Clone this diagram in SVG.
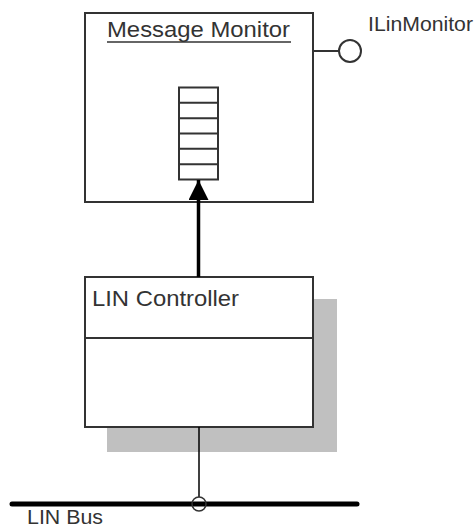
<svg xmlns="http://www.w3.org/2000/svg" width="474" height="527" viewBox="0 0 474 527">
<style>
.box{fill:#fff;stroke:#333;stroke-width:2}
.ln{stroke:#333;fill:none}
.t{font-family:"Liberation Sans",Arial,sans-serif;fill:#333}
</style>
<defs>
<marker id="arr" viewBox="0 0 10 10" refX="10" refY="5" markerWidth="20" markerHeight="20" markerUnits="userSpaceOnUse" orient="auto">
<path d="M0,0 L10,5 L0,10 Z" fill="#000"/>
</marker>
</defs>
<rect width="474" height="527" fill="#fff"/>
<g id="message-monitor">
<rect class="box" x="85" y="13" width="228" height="189"/>
<text class="t" x="107" y="37" font-size="22" textLength="183" lengthAdjust="spacingAndGlyphs">Message Monitor</text>
<line class="ln" x1="107" y1="42" x2="291" y2="42" stroke-width="1.5"/>
<g id="queue">
<rect class="box" x="179" y="87.5" width="39" height="92"/>
<path class="ln" stroke-width="2" d="M179,102.8H218M179,118.2H218M179,133.5H218M179,148.8H218M179,164.2H218"/>
</g>
</g>
<g id="ilinmonitor">
<line class="ln" x1="313" y1="51" x2="339" y2="51" stroke-width="2"/>
<circle cx="350" cy="51" r="11" fill="#fff" stroke="#333" stroke-width="2"/>
<text class="t" x="368" y="31" font-size="21" textLength="105" lengthAdjust="spacingAndGlyphs">ILinMonitor</text>
</g>
<g id="lin-controller">
<rect x="107" y="299" width="230" height="153" fill="#c0c0c0"/>
<rect class="box" x="85" y="277" width="228" height="150"/>
<line class="ln" x1="85" y1="338" x2="313" y2="338" stroke-width="2"/>
<text class="t" x="92" y="306" font-size="22" textLength="147" lengthAdjust="spacingAndGlyphs">LIN Controller</text>
</g>
<g id="lin-bus">
<line x1="12" y1="504" x2="357" y2="504" stroke="#000" stroke-width="5" stroke-linecap="round"/>
<text class="t" x="27" y="524" font-size="21" textLength="76" lengthAdjust="spacingAndGlyphs">LIN Bus</text>
</g>
<g id="connectors">
<line x1="198.5" y1="277" x2="198.5" y2="180" stroke="#000" stroke-width="3.5" marker-end="url(#arr)"/>
<line x1="199" y1="427" x2="199" y2="497" stroke="#000" stroke-width="1.5"/>
<circle cx="199" cy="504" r="7" fill="none" stroke="#333" stroke-width="1.5"/>
</g>
</svg>
